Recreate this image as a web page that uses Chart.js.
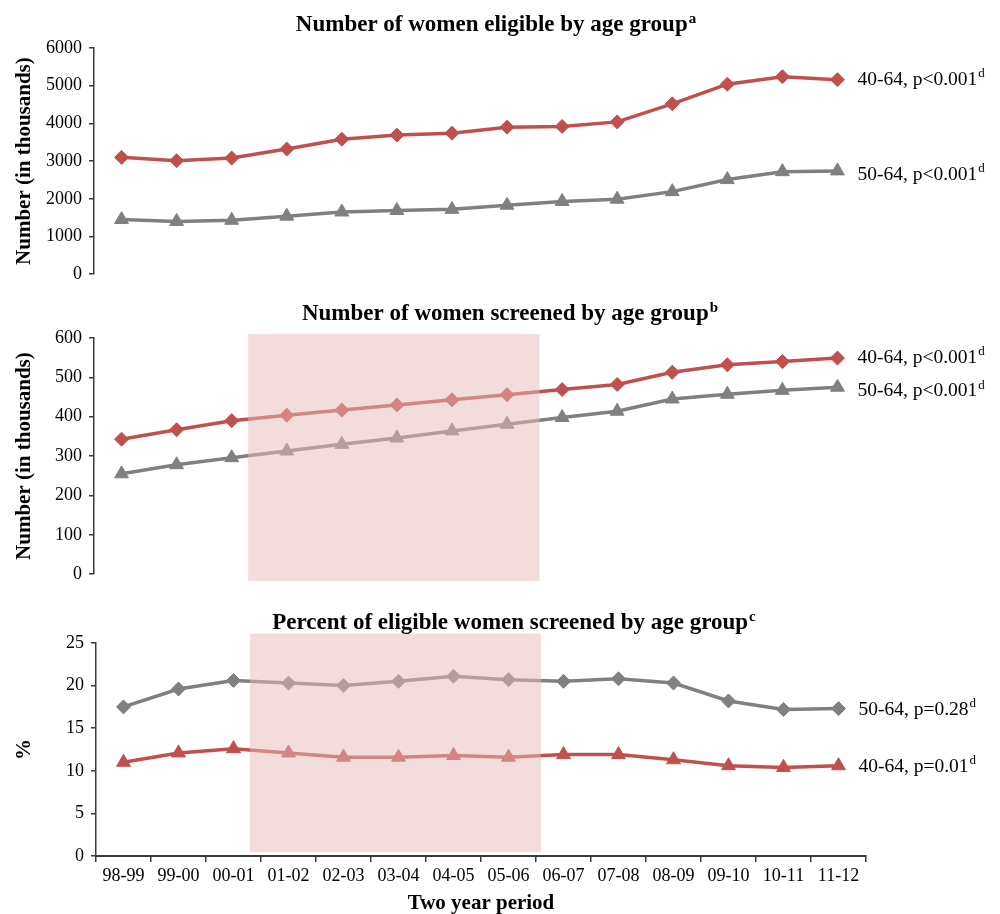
<!DOCTYPE html>
<html>
<head>
<meta charset="utf-8">
<script src="https://cdn.jsdelivr.net/npm/chart.js@4"></script>
<style>
  html, body { margin: 0; padding: 0; background: #fff; }
  .panel { position: absolute; left: 0; width: 1000px; }
</style>
</head>
<body>
<div class="panel" style="top:0;height:292px"><canvas id="eligible"></canvas></div>
<div class="panel" style="top:292px;height:300px"><canvas id="screened"></canvas></div>
<div class="panel" style="top:592px;height:322px"><canvas id="percent"></canvas></div>
<script>
// two year periods on the x axis
const periods = ['98-99', '99-00', '00-01', '01-02', '02-03', '03-04', '04-05',
                 '05-06', '06-07', '07-08', '08-09', '09-10', '10-11', '11-12'];

// number of women eligible (thousands)
const eligible4064 = [3100, 3010, 3080, 3320, 3580, 3690, 3740, 3900, 3920, 4040, 4520, 5040, 5240, 5160];
const eligible5064 = [1450, 1400, 1430, 1540, 1650, 1690, 1720, 1830, 1930, 1990, 2190, 2510, 2720, 2740];

// number of women screened (thousands)
const screened4064 = [343, 367, 390, 404, 417, 430, 443, 456, 469, 482, 513, 532, 540, 549];
const screened5064 = [255, 278, 296, 313, 330, 346, 364, 381, 398, 414, 445, 457, 467, 475];

// percent of eligible women screened
const percent5064 = [17.5, 19.6, 20.6, 20.3, 20.0, 20.5, 21.1, 20.7, 20.5, 20.8, 20.3, 18.2, 17.2, 17.3];
const percent4064 = [11.0, 12.1, 12.6, 12.1, 11.6, 11.6, 11.8, 11.6, 11.9, 11.9, 11.3, 10.6, 10.4, 10.6];

// shaded period, in category positions
const SHADE_FROM = 2.3;
const SHADE_TO = 7.59;

const RED = 'rgb(192,80,77)';
const GREY = 'rgb(128,128,128)';
const SERIF = '"Liberation Serif", "Times New Roman", serif';
const AXIS = '#3a3a3a';

// titles with superscript + labels at the end of each line
const panelText = {
  id: 'panelText',
  afterDraw(chart, args, opts) {
    const ctx = chart.ctx;
    ctx.save();
    ctx.fillStyle = '#000';
    ctx.textAlign = 'left';
    ctx.textBaseline = 'alphabetic';
    ctx.font = 'bold 23px ' + SERIF;
    const w = ctx.measureText(opts.title).width;
    ctx.font = 'bold 15px ' + SERIF;
    const ws = ctx.measureText(opts.sup).width;
    const x0 = opts.titleX - (w + ws + 1) / 2;
    ctx.font = 'bold 23px ' + SERIF;
    ctx.fillText(opts.title, x0, opts.titleY);
    ctx.font = 'bold 15px ' + SERIF;
    ctx.fillText(opts.sup, x0 + w + 1, opts.titleY - 8);

    ctx.textBaseline = 'middle';
    opts.labels.forEach((lab, i) => {
      const meta = chart.getDatasetMeta(i);
      const pt = meta.data[meta.data.length - 1];
      const lx = pt.x + 20;
      const ly = pt.y + lab.dy;
      ctx.font = '19.5px ' + SERIF;
      ctx.fillText(lab.text, lx, ly);
      const lw = ctx.measureText(lab.text).width;
      ctx.font = '13px ' + SERIF;
      ctx.fillText('d', lx + lw + 1, ly - 6);
    });
    ctx.restore();
  }
};

// translucent pink band laid over the lines
const shade = {
  id: 'shade',
  afterDatasetsDraw(chart, args, opts) {
    if (!opts.range) return;
    const {ctx, scales: {x, y}} = chart;
    const left = x.getPixelForValue(SHADE_FROM);
    const right = x.getPixelForValue(SHADE_TO);
    const top = y.getPixelForValue(opts.range[1]);
    const bottom = y.getPixelForValue(opts.range[0]);
    ctx.save();
    ctx.fillStyle = 'rgba(229,185,185,0.5)';
    ctx.fillRect(left, top, right - left, bottom - top);
    ctx.restore();
  }
};

function makePanel(id, cfg) {
  return new Chart(document.getElementById(id), {
    type: 'line',
    data: {
      labels: periods,
      datasets: cfg.series.map(s => ({
        data: s.data,
        borderColor: s.color,
        backgroundColor: s.color,
        borderWidth: 3.5,
        pointStyle: s.marker,
        pointRadius: s.marker === 'triangle' ? 8 : 7,
        pointBorderWidth: 1,
        pointBorderColor: s.color,
        pointBackgroundColor: s.color,
        tension: 0
      }))
    },
    options: {
      responsive: true,
      maintainAspectRatio: false,
      animation: false,
      events: [],
      layout: { padding: { top: cfg.padTop, bottom: cfg.padBottom, right: 1000 - cfg.right, left: 0 } },
      plugins: {
        legend: { display: false },
        tooltip: { enabled: false },
        panelText: { title: cfg.title, sup: cfg.sup, titleX: cfg.titleX, titleY: cfg.titleY, labels: cfg.labels },
        shade: { range: cfg.shade }
      },
      scales: {
        x: {
          display: cfg.showX,
          offset: true,
          grid: { offset: true, drawOnChartArea: false, tickLength: 6, color: AXIS, lineWidth: 1.5 },
          border: { color: AXIS, width: 2 },
          ticks: { color: '#000', font: { family: SERIF, size: 18 }, padding: 3, maxRotation: 0, autoSkip: false },
          title: {
            display: cfg.showX, text: 'Two year period', color: '#000',
            font: { family: SERIF, size: 21, weight: 'bold', lineHeight: 1 },
            padding: { top: 0, bottom: 0 }
          },
          afterFit(scale) { if (cfg.showX) scale.height = 58; }
        },
        y: {
          min: 0,
          max: cfg.max,
          ticks: {
            stepSize: cfg.step, color: '#000', font: { family: SERIF, size: 18 }, padding: 7,
            callback: v => String(v)
          },
          grid: { drawOnChartArea: false, tickLength: 5, color: AXIS, lineWidth: 1.5 },
          border: { color: AXIS, width: 1.5 },
          title: {
            display: true, text: cfg.yTitle, color: '#000',
            font: { family: SERIF, size: 21, weight: 'bold', lineHeight: 1 },
            padding: { top: 14.5, bottom: 0 }
          },
          afterFit(scale) { scale.width = cfg.left; }
        }
      }
    },
    plugins: [shade, panelText]
  });
}

makePanel('eligible', {
  title: 'Number of women eligible by age group', sup: 'a', titleX: 496, titleY: 31,
  series: [
    { data: eligible4064, color: RED, marker: 'rectRot' },
    { data: eligible5064, color: GREY, marker: 'triangle' }
  ],
  labels: [{ text: '40-64, p<0.001', dy: 0 }, { text: '50-64, p<0.001', dy: 4 }],
  yTitle: 'Number (in thousands)', max: 6000, step: 1000,
  padTop: 48, padBottom: 13, left: 94, right: 865, showX: false, shade: null
});

makePanel('screened', {
  title: 'Number of women screened by age group', sup: 'b', titleX: 510, titleY: 28,
  series: [
    { data: screened4064, color: RED, marker: 'rectRot' },
    { data: screened5064, color: GREY, marker: 'triangle' }
  ],
  labels: [{ text: '40-64, p<0.001', dy: 0 }, { text: '50-64, p<0.001', dy: 4 }],
  yTitle: 'Number (in thousands)', max: 600, step: 100,
  padTop: 46, padBottom: 8, left: 94, right: 865, showX: false, shade: [-17, 610]
});

makePanel('percent', {
  title: 'Percent of eligible women screened by age group', sup: 'c', titleX: 514, titleY: 37,
  series: [
    { data: percent5064, color: GREY, marker: 'rectRot' },
    { data: percent4064, color: RED, marker: 'triangle' }
  ],
  labels: [{ text: '50-64, p=0.28', dy: 1 }, { text: '40-64, p=0.01', dy: 1 }],
  yTitle: '%', max: 25, step: 5,
  padTop: 51, padBottom: 0, left: 96, right: 866, showX: true, shade: [0.47, 26.1]
});
</script>
</body>
</html>
